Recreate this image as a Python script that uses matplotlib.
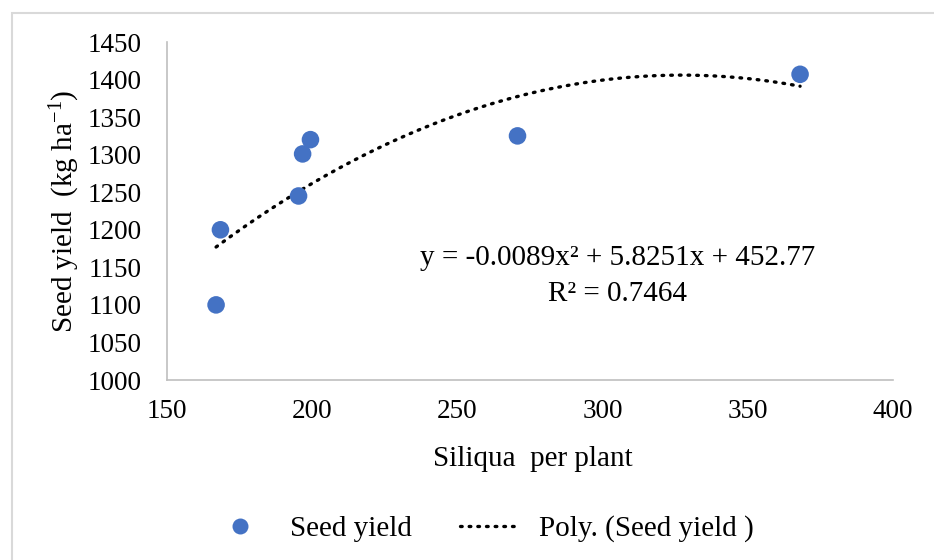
import numpy as np
import matplotlib
matplotlib.use("Agg")
import matplotlib.pyplot as plt
from matplotlib.patches import Rectangle
from matplotlib.lines import Line2D

siliqua = [166.9, 168.4, 195.3, 196.7, 199.4, 270.7, 368.0]
seed_yield = [1100, 1200, 1245, 1301, 1320, 1325, 1407]
coef = [-0.0089, 5.8251, 452.77]
r2 = 0.7464
xticks = [150, 200, 250, 300, 350, 400]
yticks = list(range(1000, 1451, 50))

plt.rcParams['font.family'] = ['Liberation Serif', 'DejaVu Serif']
plt.rcParams['mathtext.fontset'] = 'custom'
plt.rcParams['mathtext.rm'] = 'Liberation Serif'
plt.rcParams['mathtext.it'] = 'Liberation Serif:italic'

W, H = 934, 560
fig = plt.figure(figsize=(W/100, H/100), dpi=100)
ax = fig.add_axes([167/W, 1-380/H, (893-167)/W, (380-42)/H])

blue = '#4472C4'
dot = (0, (0.5, 2.1))
ax.scatter(siliqua, seed_yield, s=160, color=blue, zorder=3, edgecolors='none')
xs = np.linspace(min(siliqua), max(siliqua), 300)
ys = np.polyval(coef, xs)
ax.plot(xs, ys, color='black', lw=2.4, linestyle=dot, dash_capstyle='round', zorder=2)

ax.set_xlim(150, 400)
ax.set_ylim(1000, 1450)
ax.set_xticks(xticks)
ax.set_yticks(yticks)
ax.tick_params(labelsize=19.5, length=0)
ax.tick_params(axis='y', pad=18)
ax.tick_params(axis='x', pad=14)
for s in ['top', 'right']:
    ax.spines[s].set_visible(False)
for s in ['left', 'bottom']:
    ax.spines[s].set_color('#BFBFBF')
    ax.spines[s].set_linewidth(1.2)

ax.set_xlabel('Siliqua  per plant', fontsize=21)
ax.xaxis.set_label_coords((533-167)/726, (380-446)/338)
ax.set_ylabel('Seed yield  (kg ha$^{\\mathrm{-1}}$)', fontsize=21)
ax.yaxis.set_label_coords((82-167)/726, 0.5)

eq = f'y = {coef[0]}x² + {coef[1]}x + {coef[2]}\nR² = {r2}'
ax.text(618/W, 1-276/H, eq, transform=fig.transFigure, ha='center', va='center',
        fontsize=21, linespacing=1.5)

# chart border
fig.patches.append(Rectangle((12/W, -0.1), 1.2, 1-13/H+0.1, transform=fig.transFigure,
                             fill=False, edgecolor='#D9D9D9', lw=1.5))

handles = [Line2D([], [], marker='o', color=blue, linestyle='none', markersize=11.5,
                  markeredgewidth=0),
           Line2D([], [], color='black', lw=2.4, linestyle=dot, dash_capstyle='round')]
fig.legend(handles, ['Seed yield', 'Poly. (Seed yield )'], loc='center',
           bbox_to_anchor=(482/W, 1-529/H), ncol=2, frameon=False, fontsize=21,
           handlelength=2.07, columnspacing=1.65, handletextpad=0.65,
           borderpad=0, borderaxespad=0)

fig.savefig('out.png', dpi=100)
